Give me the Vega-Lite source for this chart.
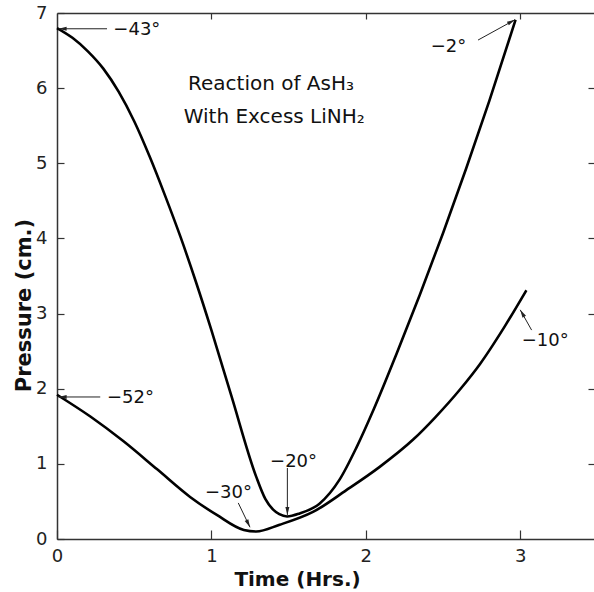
{
  "$schema": "https://vega.github.io/schema/vega-lite/v6.json",
  "width": 537,
  "height": 526,
  "autosize": "none",
  "padding": {"left": 57, "top": 13, "right": 0, "bottom": 53},
  "background": "white",
  "config": {"view": {"stroke": null}, "font": "DejaVu Sans"},
  "datasets": {
    "curves": [
      {"curve": "upper", "t": 0, "p": 6.80},
      {"curve": "upper", "t": 0.10, "p": 6.67},
      {"curve": "upper", "t": 0.20, "p": 6.49},
      {"curve": "upper", "t": 0.30, "p": 6.26},
      {"curve": "upper", "t": 0.40, "p": 5.95},
      {"curve": "upper", "t": 0.50, "p": 5.56},
      {"curve": "upper", "t": 0.60, "p": 5.09},
      {"curve": "upper", "t": 0.70, "p": 4.57},
      {"curve": "upper", "t": 0.80, "p": 4.02},
      {"curve": "upper", "t": 0.90, "p": 3.42},
      {"curve": "upper", "t": 1.00, "p": 2.78},
      {"curve": "upper", "t": 1.13, "p": 1.90},
      {"curve": "upper", "t": 1.29, "p": 0.83},
      {"curve": "upper", "t": 1.35, "p": 0.53},
      {"curve": "upper", "t": 1.40, "p": 0.39},
      {"curve": "upper", "t": 1.44, "p": 0.33},
      {"curve": "upper", "t": 1.49, "p": 0.30},
      {"curve": "upper", "t": 1.572, "p": 0.34},
      {"curve": "upper", "t": 1.70, "p": 0.47},
      {"curve": "upper", "t": 1.83, "p": 0.79},
      {"curve": "upper", "t": 1.94, "p": 1.22},
      {"curve": "upper", "t": 2.05, "p": 1.72},
      {"curve": "upper", "t": 2.20, "p": 2.47},
      {"curve": "upper", "t": 2.35, "p": 3.25},
      {"curve": "upper", "t": 2.50, "p": 4.07},
      {"curve": "upper", "t": 2.65, "p": 4.93},
      {"curve": "upper", "t": 2.80, "p": 5.83},
      {"curve": "upper", "t": 2.97, "p": 6.91},
      {"curve": "lower", "t": 0, "p": 1.92},
      {"curve": "lower", "t": 0.216, "p": 1.63},
      {"curve": "lower", "t": 0.431, "p": 1.30},
      {"curve": "lower", "t": 0.647, "p": 0.93},
      {"curve": "lower", "t": 0.862, "p": 0.56},
      {"curve": "lower", "t": 1.035, "p": 0.32},
      {"curve": "lower", "t": 1.21, "p": 0.12},
      {"curve": "lower", "t": 1.29, "p": 0.10},
      {"curve": "lower", "t": 1.442, "p": 0.19},
      {"curve": "lower", "t": 1.658, "p": 0.36},
      {"curve": "lower", "t": 1.874, "p": 0.65},
      {"curve": "lower", "t": 2.09, "p": 0.96},
      {"curve": "lower", "t": 2.305, "p": 1.32},
      {"curve": "lower", "t": 2.45, "p": 1.62},
      {"curve": "lower", "t": 2.61, "p": 1.99},
      {"curve": "lower", "t": 2.74, "p": 2.33},
      {"curve": "lower", "t": 2.90, "p": 2.83},
      {"curve": "lower", "t": 3.04, "p": 3.31}
    ],
    "arrows": [
      {"name": "-43", "t1": 0.324, "p1": 6.79, "t2": 0.01, "p2": 6.79, "dir": 270},
      {"name": "-52", "t1": 0.28, "p1": 1.89, "t2": 0.01, "p2": 1.89, "dir": 270},
      {"name": "-2", "t1": 2.727, "p1": 6.64, "t2": 2.966, "p2": 6.91, "dir": 61.6},
      {"name": "-30", "t1": 1.174, "p1": 0.48, "t2": 1.25, "p2": 0.156, "dir": 154.3},
      {"name": "-20", "t1": 1.492, "p1": 0.945, "t2": 1.492, "p2": 0.32, "dir": 180},
      {"name": "-10", "t1": 3.074, "p1": 2.78, "t2": 3.0, "p2": 3.05, "dir": 329.7}
    ],
    "labels": [
      {"t": 0.365, "p": 6.77, "label": "−43°"},
      {"t": 0.324, "p": 1.87, "label": "−52°"},
      {"t": 2.42, "p": 6.55, "label": "−2°"},
      {"t": 0.958, "p": 0.61, "label": "−30°"},
      {"t": 1.38, "p": 1.03, "label": "−20°"},
      {"t": 3.01, "p": 2.63, "label": "−10°"}
    ],
    "heading": [
      {"t": 1.386, "p": 6.055, "label": "Reaction of AsH₃"},
      {"t": 1.407, "p": 5.62, "label": "With Excess LiNH₂"}
    ]
  },
  "layer": [
    {
      "data": {"name": "curves"},
      "mark": {"type": "line", "interpolate": "monotone", "color": "black", "strokeWidth": 2.6},
      "encoding": {
        "x": {
          "field": "t", "type": "quantitative",
          "scale": {"domain": [0, 3.478], "nice": false, "zero": false},
          "axis": {
            "orient": "bottom", "values": [0, 1, 2, 3], "grid": false, "labelFlush": false,
            "domainColor": "#333", "domainWidth": 1.5,
            "tickColor": "#333", "tickWidth": 1.2, "tickSize": -9,
            "labelFont": "DejaVu Sans", "labelFontSize": 18, "labelColor": "#222", "labelPadding": 17,
            "title": "Time (Hrs.)", "titleFont": "DejaVu Sans", "titleFontSize": 20, "titleFontWeight": "bold",
            "titleColor": "#111", "titleX": 240, "titleY": 46, "titleBaseline": "alphabetic", "titleAlign": "center"
          }
        },
        "y": {
          "field": "p", "type": "quantitative",
          "scale": {"domain": [0, 7], "nice": false, "zero": false},
          "axis": {
            "orient": "left", "values": [0, 1, 2, 3, 4, 5, 6, 7], "grid": false, "labelFlush": false,
            "domainColor": "#333", "domainWidth": 1.5,
            "tickColor": "#333", "tickWidth": 1.2, "tickSize": -7,
            "labelFont": "DejaVu Sans", "labelFontSize": 18, "labelColor": "#222", "labelPadding": 17,
            "title": "Pressure (cm.)", "titleFont": "DejaVu Sans", "titleFontSize": 21, "titleFontWeight": "bold",
            "titleColor": "#111", "titleX": -27, "titleY": 292, "titleBaseline": "alphabetic", "titleAlign": "center", "titleAngle": 270
          }
        },
        "detail": {"field": "curve"}
      }
    },
    {
      "data": {"name": "arrows"},
      "mark": {"type": "rule", "color": "#222", "strokeWidth": 1},
      "encoding": {
        "x": {
          "field": "t1", "type": "quantitative",
          "scale": {"domain": [0, 3.478], "nice": false, "zero": false},
          "axis": {
            "orient": "top", "values": [1, 2, 3], "grid": false, "labels": false, "title": null,
            "domainColor": "#333", "domainWidth": 1.5,
            "tickColor": "#333", "tickWidth": 1.2, "tickSize": -6
          }
        },
        "y": {
          "field": "p1", "type": "quantitative",
          "scale": {"domain": [0, 7], "nice": false, "zero": false},
          "axis": {
            "orient": "right", "values": [1, 2, 3, 4, 5, 6], "grid": false, "labels": false, "title": null,
            "domain": false, "tickColor": "#333", "tickWidth": 1.2, "tickSize": -6
          }
        },
        "x2": {"field": "t2"},
        "y2": {"field": "p2"}
      }
    },
    {
      "data": {"name": "arrows"},
      "mark": {"type": "point", "shape": "M0,0L0.45,1.8L-0.45,1.8Z", "filled": true, "color": "#222", "size": 80, "opacity": 1},
      "encoding": {
        "x": {"field": "t2", "type": "quantitative", "axis": null},
        "y": {"field": "p2", "type": "quantitative", "axis": null},
        "angle": {"field": "dir", "type": "quantitative", "scale": null}
      }
    },
    {
      "data": {"name": "labels"},
      "mark": {"type": "text", "align": "left", "baseline": "middle", "font": "DejaVu Sans", "fontSize": 18, "color": "#111"},
      "encoding": {
        "x": {"field": "t", "type": "quantitative", "axis": null},
        "y": {"field": "p", "type": "quantitative", "axis": null},
        "text": {"field": "label"}
      }
    },
    {
      "data": {"name": "heading"},
      "mark": {"type": "text", "align": "center", "baseline": "middle", "font": "DejaVu Sans", "fontSize": 20, "color": "#111"},
      "encoding": {
        "x": {"field": "t", "type": "quantitative", "axis": null},
        "y": {"field": "p", "type": "quantitative", "axis": null},
        "text": {"field": "label"}
      }
    }
  ],
  "resolve": {"axis": {"x": "independent", "y": "independent"}}
}
